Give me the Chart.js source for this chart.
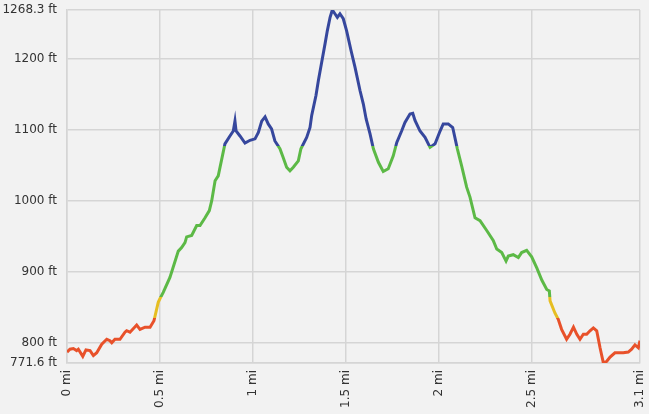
<!DOCTYPE html>
<html><head><meta charset="utf-8">
<script src="https://cdn.jsdelivr.net/npm/chart.js@4.4.1/dist/chart.umd.min.js"></script>
<style>html,body{margin:0;padding:0;background:#f2f2f2;overflow:hidden}#wrap{width:649px;height:414px;position:relative}</style>
</head><body><div id="wrap"><canvas id="c"></canvas></div>
<script>
const distanceMi = [0.000,0.016,0.034,0.052,0.061,0.085,0.102,0.124,0.142,0.160,0.187,0.214,0.231,0.241,0.258,0.285,0.312,0.321,0.339,0.375,0.393,0.420,0.447,0.468,0.491,0.500,0.518,0.554,0.599,0.617,0.635,0.644,0.671,0.698,0.716,0.743,0.766,0.779,0.797,0.814,0.850,0.877,0.895,0.904,0.910,0.931,0.958,0.985,1.012,1.030,1.048,1.066,1.083,1.101,1.119,1.146,1.163,1.182,1.200,1.218,1.245,1.259,1.290,1.308,1.317,1.340,1.353,1.371,1.389,1.401,1.416,1.428,1.442,1.455,1.469,1.487,1.505,1.529,1.550,1.577,1.595,1.610,1.631,1.649,1.676,1.702,1.729,1.756,1.775,1.801,1.819,1.846,1.861,1.873,1.900,1.927,1.954,1.981,2.008,2.025,2.052,2.076,2.101,2.124,2.151,2.169,2.196,2.223,2.259,2.294,2.313,2.340,2.363,2.375,2.402,2.429,2.447,2.474,2.501,2.529,2.556,2.582,2.596,2.600,2.626,2.644,2.662,2.689,2.707,2.726,2.744,2.761,2.779,2.797,2.815,2.833,2.851,2.869,2.887,2.905,2.923,2.949,2.994,3.021,3.039,3.057,3.075,3.084];
const elevationFt = [787,791,792,789,791,781,790,789,782,786,798,805,803,800,805,805,815,817,815,825,819,822,822,831,857,862,871,892,929,934,941,949,951,965,965,976,986,1000,1028,1035,1080,1091,1098,1112,1098,1091,1081,1085,1087,1096,1112,1118,1108,1101,1084,1073,1061,1047,1042,1047,1056,1073,1089,1103,1120,1148,1169,1195,1221,1239,1258,1268.3,1263,1258,1263,1256,1239,1211,1188,1155,1136,1115,1094,1073,1054,1041,1045,1063,1082,1098,1110,1122,1123,1113,1098,1089,1075,1080,1098,1108,1108,1103,1073,1049,1019,1005,976,972,958,944,932,927,915,922,924,920,927,930,921,905,888,875,873,859,842,833,819,805,812,822,812,805,812,812,817,821,817,793,771.6,774,780,786,786,787,791,797,793,803];
const xTicks = [0,0.5,1,1.5,2,2.5,3.084];
const xTickLabels = ['0 mi','0.5 mi','1 mi','1.5 mi','2 mi','2.5 mi','3.1 mi'];
const yTicks = [771.6,800,900,1000,1100,1200,1268.3];
const yTickLabels = ['771.6 ft','800 ft','900 ft','1000 ft','1100 ft','1200 ft','1268.3 ft'];
const bandLimits = [835,865,1077];
const bandColors = ['#e8512a','#e6be22','#5cb946','#36479d'];

function elevGradient(ctx){
  const chart = ctx.chart;
  const area = chart.chartArea;
  if(!area) return bandColors[0];
  const ys = chart.scales.y;
  const y0 = ys.getPixelForValue(ys.min), y1 = ys.getPixelForValue(ys.max);
  const g = chart.ctx.createLinearGradient(0,y0,0,y1);
  const span = ys.max - ys.min;
  let prev = 0;
  bandLimits.forEach((lim,i)=>{
    const f = (lim-ys.min)/span;
    g.addColorStop(prev,bandColors[i]);
    g.addColorStop(f,bandColors[i]);
    prev = f;
  });
  g.addColorStop(prev,bandColors[bandColors.length-1]);
  g.addColorStop(1,bandColors[bandColors.length-1]);
  return g;
}

const font = {family:'"DejaVu Sans", sans-serif', size:12};
new Chart(document.getElementById('c'),{
  type:'line',
  data:{datasets:[{
    data: distanceMi.map((d,i)=>({x:d,y:elevationFt[i]})),
    borderColor: elevGradient,
    borderWidth: 3,
    pointRadius: 0,
    tension: 0,
    fill: false
  }]},
  options:{
    responsive:true, maintainAspectRatio:false, animation:false,
    layout:{padding:{top:10,right:9,left:0,bottom:0}},
    plugins:{legend:{display:false},tooltip:{enabled:false}},
    scales:{
      x:{type:'linear', min:0, max:3.084,
        afterBuildTicks:s=>{s.ticks = xTicks.map(v=>({value:v}));},
        afterFit:s=>{s.height = 51; s.paddingRight = 0; s.paddingLeft = 0;},
        grid:{color:'#d5d5d5', lineWidth:1.5, drawTicks:false},
        border:{color:'#d5d5d5', width:1.5},
        ticks:{autoSkip:false, minRotation:90, maxRotation:90, padding:7, color:'#333', font,
          callback:(v,i)=>xTickLabels[i]}
      },
      y:{type:'linear', min:771.6, max:1268.3,
        afterBuildTicks:s=>{s.ticks = yTicks.map(v=>({value:v}));},
        afterFit:s=>{s.width = 67; s.paddingTop = 0; s.paddingBottom = 0;},
        grid:{color:'#d5d5d5', lineWidth:1.5, drawTicks:false},
        border:{color:'#d5d5d5', width:1.5},
        ticks:{autoSkip:false, padding:10, color:'#333', font,
          callback:(v,i)=>yTickLabels[i]}
      }
    }
  }
});
</script></body></html>
